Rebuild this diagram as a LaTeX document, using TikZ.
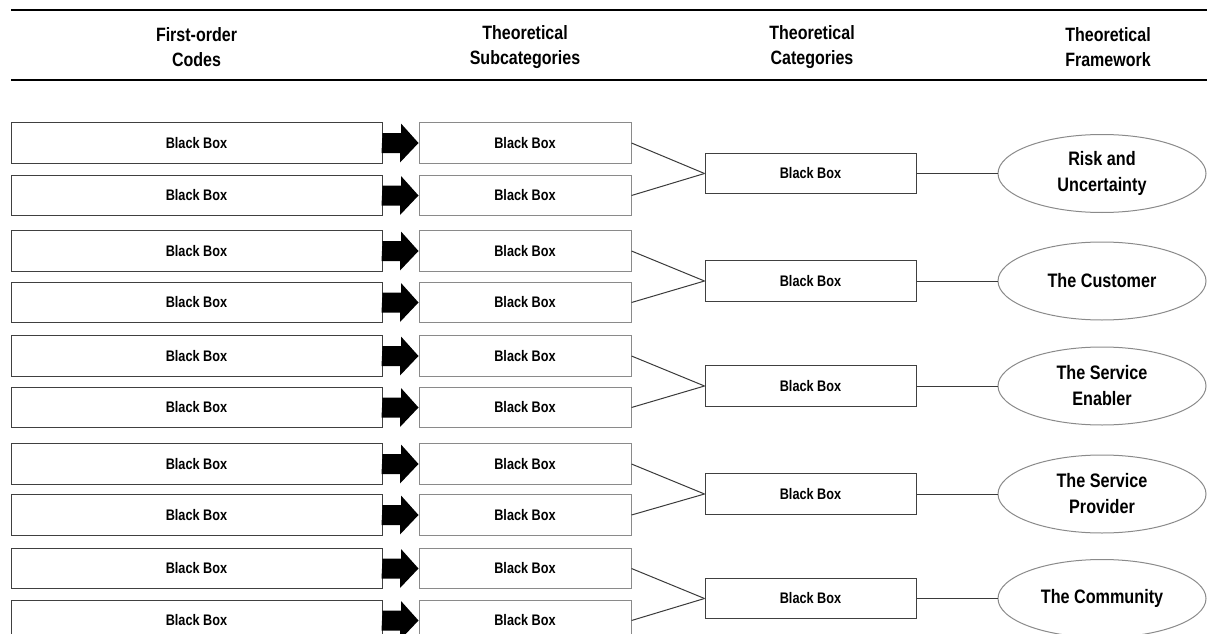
\documentclass[tikz,border=0pt]{standalone}
\usepackage{fontspec}
\setmainfont{Liberation Sans}[FakeStretch=0.83]
\usetikzlibrary{shapes.geometric}

\definecolor{edgedark}{HTML}{404040}
\definecolor{edgelight}{HTML}{8A8A8A}
\definecolor{linkgray}{HTML}{3A3A3A}

\begin{document}
\begin{tikzpicture}[x=1pt,y=-1pt,
  codebox/.style={draw=edgedark, line width=1pt, minimum height=40.5pt,
    inner sep=0pt, text=black, font=\fontsize{15.3}{18}\selectfont\bfseries},
  firstbox/.style={codebox, minimum width=371pt},
  subbox/.style={codebox, draw=edgelight, minimum width=212pt},
  catbox/.style={codebox, minimum width=211pt},
  frame/.style={ellipse, draw=edgelight, line width=1pt, minimum width=208pt,
    minimum height=78pt, inner sep=0pt, align=center,
    font=\fontsize{19.5}{26}\selectfont\bfseries},
  head/.style={align=center, font=\fontsize{19.3}{25}\selectfont\bfseries},
  rule/.style={line width=2.7pt},
  link/.style={draw=linkgray, line width=1pt},
]
\useasboundingbox (0,0) rectangle (1207,634);

% column headings between two rules
\draw[rule] (11,10) -- (1207,10);
\draw[rule] (11,80) -- (1207,80);
\node[head] (h1) at (196.5,47) {First-order\\Codes};
\node[head] (h2) at (525,47) {Theoretical\\Subcategories};
\node[head] (h3) at (812,47) {Theoretical\\Categories};
\node[head] (h4) at (1108,47) {Theoretical\\Framework};

% first-order codes and their subcategories, joined by block arrows
\foreach \i/\y in {1/143,2/195.5,3/251,4/302.5,5/356,6/407.5,7/464,8/515,9/568.5,10/620.5}{
  \node[firstbox] (f\i) at (196.5,\y) {Black Box};
  \node[subbox] (s\i) at (525,\y) {Black Box};
  \fill (f\i.east) ++(0,-10) -- ++(18.5,0) -- ++(0,-9.5) -- (s\i.west)
        -- ++(-18.5,19.5) -- ++(0,-9.5) -- ++(-18.5,0) -- cycle;
}

% categories and the framework elements they feed
\foreach \k/\y/\txt in {1/173.5/{Risk and\\Uncertainty},
                        2/281/{The Customer},
                        3/386/{The Service\\Enabler},
                        4/494/{The Service\\Provider},
                        5/598.5/{The Community}}{
  \pgfmathtruncatemacro{\a}{2*\k-1}
  \pgfmathtruncatemacro{\b}{2*\k}
  \node[catbox] (c\k) at (810.5,\y) {Black Box};
  \node[frame] (t\k) at (1102,\y) {\txt};
  \draw[link] (s\a.east) -- (c\k.west);
  \draw[link] (s\b.east) -- (c\k.west);
  \draw[link] (c\k.east) -- (t\k.west);
}
\end{tikzpicture}
\end{document}
